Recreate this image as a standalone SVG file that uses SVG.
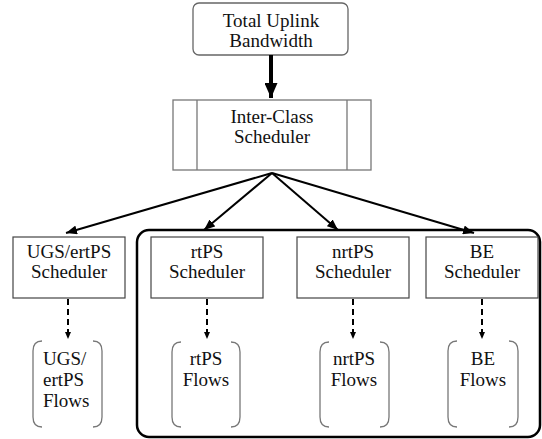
<svg xmlns="http://www.w3.org/2000/svg" width="542" height="439" viewBox="0 0 542 439">
  <style>
    text { font-family: "Liberation Serif", "Times New Roman", serif; font-size: 19px; fill: #111; text-anchor: middle; }
    .box { fill: #fff; stroke: #444; stroke-width: 1.2; }
    .soft { fill: #fff; stroke: #666; stroke-width: 1.3; }
    .bracket { fill: none; stroke: #777; stroke-width: 1.3; }
    .solid { fill: none; stroke: #000; stroke-width: 2; }
    .dashed { fill: none; stroke: #000; stroke-width: 2; stroke-dasharray: 6 4; }
    .thick { fill: none; stroke: #000; stroke-width: 4; }
  </style>
  <defs>
    <marker id="head" markerUnits="userSpaceOnUse" markerWidth="11" markerHeight="9" refX="11" refY="4.5" orient="auto">
      <path d="M0,0 L11,4.5 L0,9 z" fill="#000"/>
    </marker>
    <marker id="headSmall" markerUnits="userSpaceOnUse" markerWidth="7" markerHeight="6" refX="7" refY="3" orient="auto">
      <path d="M0,0 L7,3 L0,6 z" fill="#000"/>
    </marker>
    <marker id="headBig" markerUnits="userSpaceOnUse" markerWidth="15" markerHeight="13" refX="15" refY="6.5" orient="auto">
      <path d="M0,0 L15,6.5 L0,13 z" fill="#000"/>
    </marker>
  </defs>

  <!-- grouping frame around the rtPS / nrtPS / BE schedulers -->
  <g id="class-group">
    <rect x="137" y="230" width="403" height="207" rx="12" ry="12" fill="none" stroke="#000" stroke-width="2.5"/>
  </g>

  <g id="total-bandwidth">
    <rect class="soft" x="193" y="3" width="155" height="52" rx="6" ry="6"/>
    <text x="271" y="27">Total Uplink</text>
    <text x="271" y="47">Bandwidth</text>
  </g>

  <g id="inter-class-scheduler">
    <rect x="173" y="100" width="198" height="70" fill="#fff" stroke="#777" stroke-width="1.3"/>
    <line x1="197" y1="100" x2="197" y2="170" stroke="#777" stroke-width="1.3"/>
    <line x1="347" y1="100" x2="347" y2="170" stroke="#777" stroke-width="1.3"/>
    <text x="272" y="123">Inter-Class</text>
    <text x="272" y="143">Scheduler</text>
  </g>

  <g id="ugs-scheduler">
    <rect class="box" x="13" y="237" width="112" height="61"/>
    <text x="69" y="258">UGS/ertPS</text>
    <text x="69" y="278">Scheduler</text>
  </g>
  <g id="rtps-scheduler">
    <rect class="box" x="151" y="237" width="112" height="61"/>
    <text x="207" y="258">rtPS</text>
    <text x="207" y="278">Scheduler</text>
  </g>
  <g id="nrtps-scheduler">
    <rect class="box" x="297" y="237" width="112" height="61"/>
    <text x="353" y="258">nrtPS</text>
    <text x="353" y="278">Scheduler</text>
  </g>
  <g id="be-scheduler">
    <rect class="box" x="426" y="237" width="112" height="61"/>
    <text x="482" y="258">BE</text>
    <text x="482" y="278">Scheduler</text>
  </g>

  <!-- flow groups drawn as round brackets -->
  <g id="ugs-flows">
    <path class="bracket" d="M42,341 Q33,341 33,351 L33,417 Q33,427 42,427"/>
    <path class="bracket" d="M93,341 Q102,341 102,351 L102,417 Q102,427 93,427"/>
    <text x="43" y="365" style="text-anchor:start">UGS/</text>
    <text x="43" y="386" style="text-anchor:start">ertPS</text>
    <text x="43" y="407" style="text-anchor:start">Flows</text>
  </g>
  <g id="rtps-flows">
    <path class="bracket" d="M181,342 Q172,342 172,352 L172,417 Q172,427 181,427"/>
    <path class="bracket" d="M231,342 Q240,342 240,352 L240,417 Q240,427 231,427"/>
    <text x="206" y="365">rtPS</text>
    <text x="206" y="386">Flows</text>
  </g>
  <g id="nrtps-flows">
    <path class="bracket" d="M329,342 Q320,342 320,352 L320,417 Q320,427 329,427"/>
    <path class="bracket" d="M380,342 Q389,342 389,352 L389,417 Q389,427 380,427"/>
    <text x="354" y="365">nrtPS</text>
    <text x="354" y="386">Flows</text>
  </g>
  <g id="be-flows">
    <path class="bracket" d="M457,341 Q448,341 448,351 L448,417 Q448,427 457,427"/>
    <path class="bracket" d="M509,341 Q518,341 518,351 L518,417 Q518,427 509,427"/>
    <text x="483" y="365">BE</text>
    <text x="483" y="386">Flows</text>
  </g>

  <g id="connectors">
    <line class="thick" x1="271" y1="55" x2="271" y2="98" marker-end="url(#headBig)"/>
    <line class="solid" x1="272" y1="173" x2="66" y2="233" marker-end="url(#head)"/>
    <line class="solid" x1="272" y1="173" x2="204" y2="230" marker-end="url(#head)"/>
    <line class="solid" x1="272" y1="173" x2="338" y2="230" marker-end="url(#head)"/>
    <line class="solid" x1="272" y1="173" x2="474" y2="233" marker-end="url(#head)"/>
    <line class="dashed" x1="68" y1="299" x2="68" y2="339" marker-end="url(#headSmall)"/>
    <line class="dashed" x1="207" y1="299" x2="207" y2="339" marker-end="url(#headSmall)"/>
    <line class="dashed" x1="353" y1="299" x2="353" y2="339" marker-end="url(#headSmall)"/>
    <line class="dashed" x1="482" y1="299" x2="482" y2="339" marker-end="url(#headSmall)"/>
  </g>
</svg>
